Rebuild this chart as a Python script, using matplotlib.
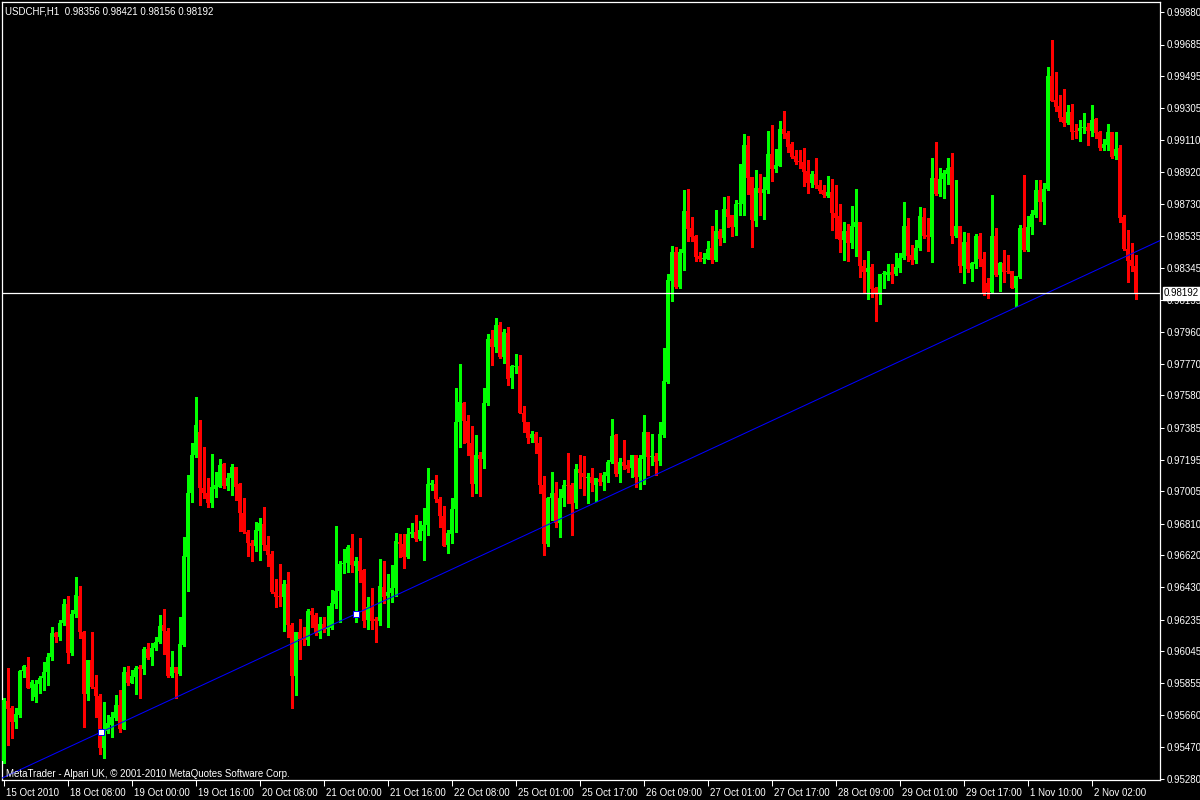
import numpy as np
import matplotlib
matplotlib.use('Agg')
import matplotlib.pyplot as plt
import matplotlib.transforms as mtransforms

plt.rcParams['font.family'] = ['Liberation Sans', 'DejaVu Sans']

symbol = 'USDCHF,H1'

# hourly candles, 15 Oct 2010 16:00 .. 2 Nov 2010 13:00
opens = [
    0.95386, 0.95746, 0.95704, 0.95620, 0.95662, 0.95926, 0.95950, 0.95824, 0.95770, 0.95848,
    0.95884, 0.95920, 0.96010, 0.96154, 0.96130, 0.96214, 0.96328, 0.96034, 0.96268, 0.96376,
    0.96160, 0.95788, 0.95992, 0.95830, 0.95776, 0.95464, 0.95566, 0.95602, 0.95644, 0.95722,
    0.95578, 0.95920, 0.95854, 0.95890, 0.95950, 0.95938, 0.96058, 0.96010, 0.96064, 0.96100,
    0.96202, 0.96166, 0.95896, 0.95950, 0.95908, 0.96082, 0.96610, 0.96994, 0.97222, 0.97360,
    0.97024, 0.96994, 0.96934, 0.97018, 0.97030, 0.97168, 0.97036, 0.97084, 0.97150, 0.97048,
    0.96874, 0.96760, 0.96694, 0.96676, 0.96766, 0.96808, 0.96682, 0.96628, 0.96400, 0.96376,
    0.96370, 0.96448, 0.96202, 0.95896, 0.96160, 0.96124, 0.96112, 0.96286, 0.96262, 0.96154,
    0.96208, 0.96178, 0.96184, 0.96328, 0.96406, 0.96568, 0.96574, 0.96664, 0.96556, 0.96586,
    0.96532, 0.96232, 0.96304, 0.96238, 0.96226, 0.96430, 0.96376, 0.96394, 0.96424, 0.96700,
    0.96688, 0.96610, 0.96748, 0.96760, 0.96718, 0.96766, 0.96802, 0.97042, 0.97048, 0.96958,
    0.96856, 0.96682, 0.96748, 0.96898, 0.97420, 0.97534, 0.97426, 0.97294, 0.97048, 0.97222,
    0.97198, 0.97534, 0.97918, 0.97870, 0.98002, 0.97810, 0.97954, 0.97684, 0.97750, 0.97756,
    0.97474, 0.97420, 0.97324, 0.97348, 0.97294, 0.97042, 0.96688, 0.96964, 0.96994, 0.96814,
    0.96964, 0.97042, 0.97042, 0.96934, 0.97138, 0.97114, 0.97084, 0.97090, 0.97042, 0.97078,
    0.97060, 0.97096, 0.97180, 0.97342, 0.97108, 0.97180, 0.97162, 0.97144, 0.97222, 0.97090,
    0.97198, 0.97360, 0.97210, 0.97216, 0.97186, 0.97342, 0.97660, 0.98266, 0.98440, 0.98230,
    0.98434, 0.98686, 0.98584, 0.98536, 0.98416, 0.98398, 0.98398, 0.98464, 0.98392, 0.98566,
    0.98524, 0.98698, 0.98662, 0.98590, 0.98728, 0.98728, 0.99082, 0.98890, 0.98626, 0.98824,
    0.98794, 0.98812, 0.99028, 0.98938, 0.98956, 0.99178, 0.99154, 0.99088, 0.99016, 0.98986,
    0.98980, 0.98926, 0.98854, 0.98908, 0.98842, 0.98812, 0.98776, 0.98800, 0.98674, 0.98656,
    0.98512, 0.98566, 0.98494, 0.98590, 0.98620, 0.98356, 0.98320, 0.98350, 0.98224, 0.98194,
    0.98308, 0.98302, 0.98320, 0.98308, 0.98344, 0.98404, 0.98596, 0.98422, 0.98392, 0.98464,
    0.98650, 0.98542, 0.98530, 0.98884, 0.98788, 0.98878, 0.98908, 0.98950, 0.98536, 0.98596,
    0.98356, 0.98500, 0.98338, 0.98368, 0.98536, 0.98398, 0.98254, 0.98200, 0.98536, 0.98302,
    0.98374, 0.98326, 0.98326, 0.98224, 0.98290, 0.98584, 0.98452, 0.98590, 0.98662, 0.98812,
    0.98740, 0.98818, 0.99496, 0.99352, 0.99316, 0.99250, 0.99214, 0.99280, 0.99166, 0.99166,
    0.99184, 0.99190, 0.99166, 0.99238, 0.99160, 0.99064, 0.99082, 0.99160, 0.99016, 0.99064,
    0.98650, 0.98458, 0.98392, 0.98356,
]
highs = [
    0.95764, 0.95944, 0.95716, 0.95704, 0.95932, 0.95962, 0.96010, 0.95872, 0.95872, 0.95896,
    0.95980, 0.96034, 0.96190, 0.96160, 0.96232, 0.96358, 0.96376, 0.96292, 0.96490, 0.96436,
    0.96166, 0.95992, 0.96160, 0.95902, 0.95788, 0.95740, 0.95662, 0.95680, 0.95782, 0.95812,
    0.95950, 0.95956, 0.95932, 0.95956, 0.95962, 0.96070, 0.96094, 0.96094, 0.96130, 0.96262,
    0.96298, 0.96184, 0.96046, 0.95950, 0.96250, 0.96730, 0.97102, 0.97294, 0.97570, 0.97432,
    0.97270, 0.97084, 0.97228, 0.97120, 0.97198, 0.97174, 0.97114, 0.97168, 0.97150, 0.97054,
    0.96964, 0.96772, 0.96712, 0.96820, 0.96844, 0.96910, 0.96736, 0.96646, 0.96478, 0.96568,
    0.96472, 0.96520, 0.96214, 0.96160, 0.96238, 0.96190, 0.96298, 0.96304, 0.96274, 0.96250,
    0.96250, 0.96316, 0.96412, 0.96796, 0.96586, 0.96658, 0.96682, 0.96748, 0.96610, 0.96724,
    0.96538, 0.96370, 0.96424, 0.96250, 0.96598, 0.96586, 0.96508, 0.96562, 0.96754, 0.96748,
    0.96748, 0.96784, 0.96814, 0.96862, 0.96826, 0.96904, 0.97144, 0.97072, 0.97102, 0.96970,
    0.96916, 0.96772, 0.96964, 0.97624, 0.97768, 0.97540, 0.97462, 0.97396, 0.97342, 0.97240,
    0.97624, 0.97948, 0.97972, 0.98044, 0.98020, 0.97978, 0.97990, 0.97762, 0.97828, 0.97822,
    0.97516, 0.97420, 0.97366, 0.97360, 0.97330, 0.97096, 0.96970, 0.97120, 0.97060, 0.97018,
    0.97072, 0.97234, 0.97054, 0.97168, 0.97222, 0.97216, 0.97114, 0.97144, 0.97084, 0.97114,
    0.97120, 0.97192, 0.97438, 0.97348, 0.97204, 0.97312, 0.97192, 0.97222, 0.97222, 0.97222,
    0.97462, 0.97360, 0.97348, 0.97234, 0.97420, 0.97864, 0.98308, 0.98476, 0.98470, 0.98458,
    0.98812, 0.98818, 0.98650, 0.98542, 0.98440, 0.98434, 0.98506, 0.98596, 0.98692, 0.98578,
    0.98770, 0.98776, 0.98662, 0.98752, 0.98968, 0.99148, 0.99136, 0.98890, 0.98932, 0.98908,
    0.98890, 0.99166, 0.99202, 0.99058, 0.99226, 0.99286, 0.99166, 0.99100, 0.99052, 0.99052,
    0.99064, 0.98992, 0.98926, 0.99004, 0.98872, 0.98842, 0.98896, 0.98878, 0.98842, 0.98728,
    0.98620, 0.98608, 0.98716, 0.98818, 0.98620, 0.98392, 0.98446, 0.98368, 0.98230, 0.98308,
    0.98326, 0.98368, 0.98368, 0.98434, 0.98434, 0.98740, 0.98644, 0.98482, 0.98512, 0.98710,
    0.98704, 0.98644, 0.99004, 0.99100, 0.98944, 0.98932, 0.99004, 0.99034, 0.98872, 0.98596,
    0.98560, 0.98554, 0.98380, 0.98548, 0.98554, 0.98440, 0.98284, 0.98782, 0.98584, 0.98380,
    0.98452, 0.98422, 0.98326, 0.98296, 0.98602, 0.98902, 0.98656, 0.98692, 0.98872, 0.98872,
    0.98854, 0.99550, 0.99712, 0.99520, 0.99382, 0.99418, 0.99322, 0.99328, 0.99208, 0.99232,
    0.99274, 0.99214, 0.99322, 0.99244, 0.99166, 0.99118, 0.99208, 0.99160, 0.99160, 0.99082,
    0.98662, 0.98572, 0.98494, 0.98421,
]
lows = [
    0.95374, 0.95482, 0.95524, 0.95584, 0.95650, 0.95890, 0.95824, 0.95752, 0.95740, 0.95794,
    0.95812, 0.95842, 0.95992, 0.96100, 0.96112, 0.96202, 0.95974, 0.96022, 0.96250, 0.96124,
    0.95590, 0.95752, 0.95824, 0.95650, 0.95428, 0.95404, 0.95554, 0.95530, 0.95632, 0.95560,
    0.95578, 0.95842, 0.95854, 0.95788, 0.95764, 0.95908, 0.95998, 0.95962, 0.96052, 0.96094,
    0.96028, 0.95890, 0.95890, 0.95764, 0.95902, 0.96076, 0.96406, 0.96940, 0.97210, 0.96922,
    0.96964, 0.96910, 0.96910, 0.96970, 0.97030, 0.97024, 0.97012, 0.96982, 0.96952, 0.96766,
    0.96754, 0.96616, 0.96586, 0.96646, 0.96592, 0.96652, 0.96556, 0.96394, 0.96310, 0.96316,
    0.96166, 0.96130, 0.95704, 0.95782, 0.95998, 0.96082, 0.96082, 0.96190, 0.96142, 0.96124,
    0.96160, 0.96142, 0.96178, 0.96304, 0.96220, 0.96514, 0.96520, 0.96520, 0.96220, 0.96460,
    0.96190, 0.96178, 0.96178, 0.96100, 0.96202, 0.96334, 0.96190, 0.96340, 0.96376, 0.96610,
    0.96544, 0.96604, 0.96730, 0.96706, 0.96712, 0.96592, 0.96742, 0.97012, 0.96940, 0.96790,
    0.96676, 0.96634, 0.96694, 0.96760, 0.97270, 0.97294, 0.97222, 0.96976, 0.96994, 0.96976,
    0.97144, 0.97522, 0.97762, 0.97840, 0.97804, 0.97774, 0.97642, 0.97624, 0.97714, 0.97474,
    0.97360, 0.97294, 0.97300, 0.97234, 0.96994, 0.96622, 0.96676, 0.96832, 0.96790, 0.96730,
    0.96916, 0.96934, 0.96742, 0.96904, 0.97024, 0.96982, 0.96934, 0.97006, 0.96946, 0.97042,
    0.97012, 0.97060, 0.97174, 0.97096, 0.97060, 0.97138, 0.97120, 0.97090, 0.97030, 0.97018,
    0.97048, 0.97102, 0.97162, 0.97102, 0.97162, 0.97330, 0.97654, 0.98146, 0.98224, 0.98224,
    0.98332, 0.98506, 0.98506, 0.98386, 0.98386, 0.98374, 0.98398, 0.98374, 0.98386, 0.98482,
    0.98500, 0.98590, 0.98536, 0.98542, 0.98662, 0.98662, 0.98788, 0.98470, 0.98596, 0.98662,
    0.98638, 0.98794, 0.98866, 0.98920, 0.98956, 0.99124, 0.99040, 0.99004, 0.98968, 0.98944,
    0.98836, 0.98794, 0.98830, 0.98824, 0.98794, 0.98770, 0.98770, 0.98572, 0.98524, 0.98440,
    0.98392, 0.98386, 0.98464, 0.98416, 0.98290, 0.98194, 0.98158, 0.98170, 0.98026, 0.98128,
    0.98224, 0.98272, 0.98254, 0.98302, 0.98320, 0.98398, 0.98386, 0.98368, 0.98374, 0.98452,
    0.98524, 0.98446, 0.98380, 0.98782, 0.98776, 0.98764, 0.98848, 0.98494, 0.98530, 0.98320,
    0.98254, 0.98320, 0.98266, 0.98344, 0.98356, 0.98182, 0.98164, 0.98194, 0.98296, 0.98206,
    0.98260, 0.98314, 0.98224, 0.98116, 0.98284, 0.98446, 0.98446, 0.98548, 0.98650, 0.98626,
    0.98608, 0.98812, 0.99346, 0.99286, 0.99226, 0.99196, 0.99208, 0.99118, 0.99124, 0.99106,
    0.99154, 0.99082, 0.99136, 0.99124, 0.99052, 0.99052, 0.99052, 0.99004, 0.98998, 0.98620,
    0.98452, 0.98260, 0.98326, 0.98156,
]
closes = [
    0.95752, 0.95698, 0.95620, 0.95668, 0.95926, 0.95956, 0.95824, 0.95860, 0.95848, 0.95884,
    0.95920, 0.96010, 0.96154, 0.96130, 0.96214, 0.96328, 0.96034, 0.96268, 0.96382, 0.96160,
    0.95788, 0.95992, 0.95830, 0.95776, 0.95464, 0.95566, 0.95614, 0.95650, 0.95722, 0.95578,
    0.95920, 0.95854, 0.95896, 0.95944, 0.95938, 0.96058, 0.96004, 0.96064, 0.96100, 0.96196,
    0.96166, 0.95896, 0.95950, 0.95914, 0.96088, 0.96616, 0.96994, 0.97222, 0.97402, 0.97024,
    0.96994, 0.96934, 0.97030, 0.97042, 0.97162, 0.97036, 0.97084, 0.97150, 0.97030, 0.96874,
    0.96760, 0.96694, 0.96676, 0.96772, 0.96814, 0.96682, 0.96622, 0.96400, 0.96370, 0.96370,
    0.96448, 0.96202, 0.95896, 0.96160, 0.96118, 0.96112, 0.96286, 0.96262, 0.96154, 0.96208,
    0.96178, 0.96190, 0.96334, 0.96406, 0.96568, 0.96574, 0.96670, 0.96562, 0.96586, 0.96526,
    0.96226, 0.96310, 0.96226, 0.96226, 0.96436, 0.96370, 0.96400, 0.96424, 0.96706, 0.96688,
    0.96610, 0.96748, 0.96760, 0.96718, 0.96772, 0.96802, 0.97048, 0.97054, 0.96958, 0.96856,
    0.96676, 0.96754, 0.96898, 0.97420, 0.97540, 0.97426, 0.97294, 0.97048, 0.97222, 0.97198,
    0.97534, 0.97918, 0.97870, 0.98002, 0.97810, 0.97960, 0.97678, 0.97756, 0.97756, 0.97474,
    0.97420, 0.97324, 0.97348, 0.97294, 0.97042, 0.96688, 0.96964, 0.96994, 0.96814, 0.96964,
    0.97042, 0.97036, 0.96928, 0.97138, 0.97114, 0.97090, 0.97090, 0.97054, 0.97084, 0.97060,
    0.97102, 0.97180, 0.97336, 0.97108, 0.97180, 0.97156, 0.97138, 0.97222, 0.97090, 0.97204,
    0.97360, 0.97210, 0.97216, 0.97180, 0.97348, 0.97666, 0.98272, 0.98440, 0.98230, 0.98440,
    0.98686, 0.98578, 0.98530, 0.98410, 0.98398, 0.98404, 0.98458, 0.98392, 0.98566, 0.98518,
    0.98698, 0.98650, 0.98590, 0.98728, 0.98734, 0.99082, 0.98884, 0.98632, 0.98824, 0.98794,
    0.98818, 0.99028, 0.98938, 0.98962, 0.99178, 0.99148, 0.99070, 0.99010, 0.98980, 0.98980,
    0.98920, 0.98854, 0.98908, 0.98842, 0.98806, 0.98782, 0.98800, 0.98674, 0.98644, 0.98512,
    0.98566, 0.98494, 0.98596, 0.98620, 0.98356, 0.98320, 0.98344, 0.98218, 0.98194, 0.98308,
    0.98314, 0.98320, 0.98302, 0.98350, 0.98404, 0.98596, 0.98416, 0.98392, 0.98464, 0.98656,
    0.98536, 0.98530, 0.98884, 0.98788, 0.98878, 0.98914, 0.98944, 0.98536, 0.98596, 0.98356,
    0.98500, 0.98338, 0.98374, 0.98536, 0.98398, 0.98188, 0.98200, 0.98536, 0.98302, 0.98374,
    0.98320, 0.98320, 0.98224, 0.98296, 0.98584, 0.98452, 0.98590, 0.98668, 0.98812, 0.98740,
    0.98818, 0.99496, 0.99346, 0.99310, 0.99244, 0.99214, 0.99280, 0.99160, 0.99160, 0.99184,
    0.99190, 0.99166, 0.99232, 0.99154, 0.99064, 0.99088, 0.99160, 0.99010, 0.99058, 0.98644,
    0.98458, 0.98386, 0.98356, 0.98192,
]

time_labels = ['15 Oct 2010', '18 Oct 08:00', '19 Oct 00:00', '19 Oct 16:00', '20 Oct 08:00',
               '21 Oct 00:00', '21 Oct 16:00', '22 Oct 08:00', '25 Oct 01:00', '25 Oct 17:00',
               '26 Oct 09:00', '27 Oct 01:00', '27 Oct 17:00', '28 Oct 09:00', '29 Oct 01:00',
               '29 Oct 17:00', '1 Nov 10:00', '2 Nov 02:00']
label_step = 16  # one time label every 16 bars

price_ticks = [0.99880, 0.99685, 0.99495, 0.99305, 0.99110, 0.98920, 0.98730, 0.98535,
               0.98345, 0.98155, 0.97960, 0.97770, 0.97580, 0.97385, 0.97195, 0.97005,
               0.96810, 0.96620, 0.96430, 0.96235, 0.96045, 0.95855, 0.95660, 0.95470, 0.95280]

# trend line anchors (bar index, price) and horizontal line level
trend_bars = [24.45, 88]
trend_prices = [0.95560, 0.96268]
hline_price = 0.98192

o = np.array(opens)
h = np.array(highs)
l = np.array(lows)
c = np.array(closes)
x = np.arange(len(o))

fig = plt.figure(figsize=(12, 8), dpi=100, facecolor='black')
ax = fig.add_axes([2 / 1200, 20 / 800, 1158 / 1200, 778 / 800], facecolor='black')

colors = np.where(c >= o, '#00ff00', '#ff0000')
ax.vlines(x, l, h, colors=colors, lw=0.75, antialiased=False, zorder=2)
body = np.maximum(np.abs(c - o), 0.00006)
ax.bar(x, body, bottom=np.minimum(o, c), width=0.75, color=colors,
       linewidth=0, antialiased=False, zorder=3)

# trend line + anchor points
ax.axline((trend_bars[0], trend_prices[0]), (trend_bars[1], trend_prices[1]),
          color='#0000ff', lw=0.75, zorder=4)
ax.plot(trend_bars, trend_prices, ls='none', marker='s', ms=4, mfc='white',
        mec='#0000ff', mew=0.7, zorder=5)

ax.axhline(hline_price, color='white', lw=0.9, zorder=4)

ax.set_xlim(-0.375, 289.125)
ax.set_ylim(0.95272, 0.99940)

for s in ax.spines.values():
    s.set_color('white')
    s.set_linewidth(0.9)

ax.yaxis.tick_right()
ax.set_yticks(price_ticks)
ax.set_yticklabels([f'{v:.5f}' for v in price_ticks])
ax.tick_params(axis='y', colors='white', length=3, width=0.75, labelsize=7, pad=2)

ax.set_xticks(x[::label_step][:len(time_labels)])
ax.set_xticklabels(time_labels)
ax.tick_params(axis='x', colors='white', length=4, width=0.75, labelsize=7, pad=2)
shift = mtransforms.ScaledTranslation(2 / 100, 0, fig.dpi_scale_trans)
for lab in ax.get_xticklabels():
    lab.set_horizontalalignment('left')
    lab.set_transform(lab.get_transform() + shift)

# current level tag on the price scale
tr = mtransforms.blended_transform_factory(ax.transAxes, ax.transData)
ax.text(1 + 4 / 1158, hline_price, f'{hline_price:.5f}', transform=tr, ha='left', va='center',
        fontsize=7, color='black', clip_on=False, zorder=10,
        bbox=dict(boxstyle='square,pad=0.15', fc='white', ec='white'))

fig.text(5 / 1200, 1 - 12 / 800,
         f'{symbol}  {o[-1]:.5f} {h[-1]:.5f} {l[-1]:.5f} {c[-1]:.5f}',
         color='white', fontsize=7, va='center')
fig.text(6 / 1200, 1 - 774 / 800,
         'MetaTrader - Alpari UK, \u00a9 2001-2010 MetaQuotes Software Corp.',
         color='white', fontsize=7, va='center')

fig.savefig('out.png', dpi=100, facecolor='black')
